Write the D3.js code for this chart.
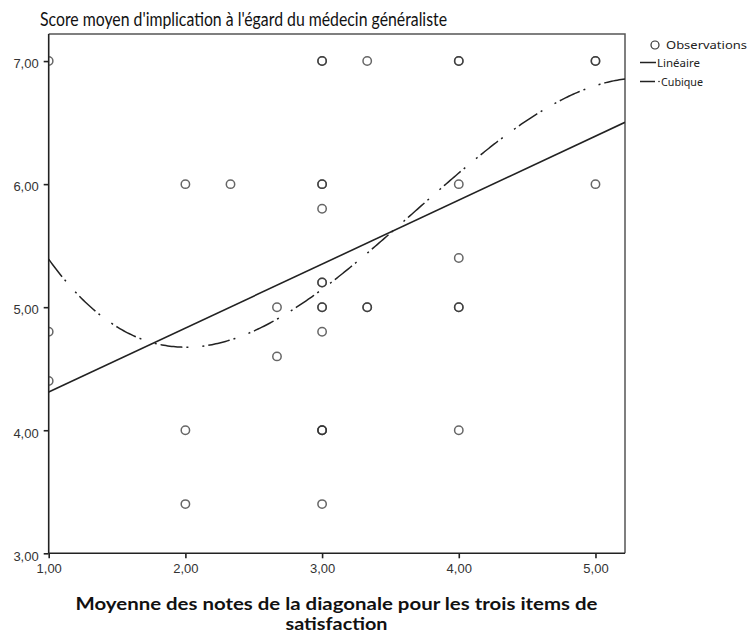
<!DOCTYPE html>
<html>
<head>
<meta charset="utf-8">
<script src="https://cdn.jsdelivr.net/npm/d3@7"></script>
<style>
  html, body { margin: 0; padding: 0; background: #fff; }
  svg { display: block; }
</style>
</head>
<body>
<div id="chart"></div>
<script>
// Observations (duplicates overlap and draw darker)
const obsX = [1, 1, 1,
  2, 2, 2, 2.33, 2.67, 2.67,
  3, 3, 3, 3, 3, 3, 3, 3, 3, 3, 3, 3, 3, 3,
  3.33, 3.33, 3.33,
  4, 4, 4, 4, 4, 4, 4,
  5, 5, 5];
const obsY = [7, 4.8, 4.4,
  6, 4, 3.4, 6, 5, 4.6,
  7, 7, 6, 6, 5.8, 5.2, 5.2, 5, 5, 4.8, 4, 4, 3.4, 4,
  7, 5, 5,
  7, 7, 6, 5.4, 5, 5, 4,
  7, 7, 6];

// Fitted curves: y = sum(coef[i] * x^i)
const linearCoef = [3.79, 0.52];
const cubicCoef = [7.9986, -3.7931, 1.3022, -0.1183];

const xTicks = [1, 2, 3, 4, 5];
const yTicks = [3, 4, 5, 6, 7];
const legendLabels = ["Observations", "Linéaire", "Cubique"];
const titleText = "Score moyen d'implication à l'égard du médecin généraliste";
const xTitleLines = ["Moyenne des notes de la diagonale pour les trois items de", "satisfaction"];

const W = 751, H = 634;
const margin = { left: 48.7, right: 751 - 625, top: 34, bottom: 634 - 553.3 };

const svg = d3.select("#chart").append("svg").attr("width", W).attr("height", H);

const x = d3.scaleLinear().domain([1, 5.216]).range([margin.left, W - margin.right]);
const y = d3.scaleLinear().domain([3, 7.22]).range([H - margin.bottom, margin.top]);

const fmt = d => d.toFixed(2).replace(".", ",");
const poly = (c, v) => c.reduce((s, k, i) => s + k * Math.pow(v, i), 0);

// Title
svg.append("text")
  .attr("x", 243.5).attr("y", 26)
  .attr("text-anchor", "middle")
  .attr("font-family", "Lato, sans-serif")
  .attr("font-size", 18.5)
  .attr("fill", "#111")
  .attr("textLength", 407).attr("lengthAdjust", "spacingAndGlyphs")
  .text(titleText);

// Clip region for marks
svg.append("defs").append("clipPath").attr("id", "plotclip")
  .append("rect")
  .attr("x", x.range()[0]).attr("y", y.range()[1])
  .attr("width", x.range()[1] - x.range()[0])
  .attr("height", y.range()[0] - y.range()[1]);

// Frame (top and right)
svg.append("path")
  .attr("d", `M${x.range()[0]},${y.range()[1]}H${x.range()[1]}V${y.range()[0]}`)
  .attr("fill", "none").attr("stroke", "#555").attr("stroke-width", 1.5);

// Axes
const xAxis = d3.axisBottom(x).tickValues(xTicks).tickFormat(fmt).tickSize(5).tickPadding(5);
const yAxis = d3.axisLeft(y).tickValues(yTicks).tickFormat(fmt).tickSize(5).tickPadding(5);

const gx = svg.append("g").attr("transform", `translate(0,${y.range()[0]})`).call(xAxis);
const gy = svg.append("g").attr("transform", `translate(${x.range()[0]},0)`).call(yAxis);
[gx, gy].forEach(g => {
  g.select(".domain").attr("stroke", "#222").attr("stroke-width", 1.6);
  g.selectAll(".tick line").attr("stroke", "#222").attr("stroke-width", 1.6);
  g.selectAll(".tick text")
    .attr("font-family", "'Liberation Sans', Arial, sans-serif")
    .attr("font-size", 13).attr("fill", "#333");
});
gy.selectAll(".tick text").attr("dy", "0.52em");
gy.select(".domain").attr("d", `M0,${y.range()[0]}V${y.range()[1]}`);
gx.select(".domain").attr("d", `M${x.range()[0]},0H${x.range()[1]}`);

// X axis title (two lines)
const xTitle = svg.append("g")
  .attr("font-family", "Lato, sans-serif")
  .attr("font-weight", "bold")
  .attr("font-size", 16.5)
  .attr("fill", "#111")
  .attr("text-anchor", "middle");
xTitle.append("text").attr("x", 336.5).attr("y", 610)
  .attr("textLength", 522).attr("lengthAdjust", "spacingAndGlyphs")
  .text(xTitleLines[0]);
xTitle.append("text").attr("x", 336.5).attr("y", 630)
  .attr("textLength", 102).attr("lengthAdjust", "spacingAndGlyphs")
  .text(xTitleLines[1]);

const plot = svg.append("g").attr("clip-path", "url(#plotclip)");

// Fit lines
const xs = d3.range(0, 301).map(i => 1 + (5.216 - 1) * i / 300);
const line = d3.line().x(d => x(d[0])).y(d => y(d[1]));

plot.append("path")
  .attr("d", line(xs.map(v => [v, poly(cubicCoef, v)])))
  .attr("fill", "none").attr("stroke", "#222").attr("stroke-width", 1.5)
  .attr("stroke-dasharray", "22,4,2,14,2,4");

plot.append("path")
  .attr("d", line([1, 5.216].map(v => [v, poly(linearCoef, v)])))
  .attr("fill", "none").attr("stroke", "#222").attr("stroke-width", 1.6);

// Observation markers
plot.selectAll("circle.obs")
  .data(obsX.map((v, i) => [v, obsY[i]]))
  .join("circle")
  .attr("class", "obs")
  .attr("cx", d => x(d[0])).attr("cy", d => y(d[1]))
  .attr("r", 4.2)
  .attr("fill", "none")
  .attr("stroke", "#333").attr("stroke-opacity", 0.75)
  .attr("stroke-width", 1.5);

// Legend
const lg = svg.append("g").attr("font-family", "'Noto Sans', sans-serif")
  .attr("font-size", 11.5).attr("fill", "#222");
lg.append("circle").attr("cx", 655).attr("cy", 45).attr("r", 4)
  .attr("fill", "none").attr("stroke", "#333").attr("stroke-width", 1.2);
lg.append("line").attr("x1", 640).attr("x2", 656).attr("y1", 62.5).attr("y2", 62.5)
  .attr("stroke", "#222").attr("stroke-width", 1.5);
lg.append("line").attr("x1", 640).attr("x2", 655).attr("y1", 81.5).attr("y2", 81.5)
  .attr("stroke", "#222").attr("stroke-width", 1.5);
lg.append("circle").attr("cx", 659).attr("cy", 81.5).attr("r", 0.8).attr("fill", "#222");
const ly = [49, 66.5, 85.5], lx = [666, 657, 661], lw = [81, 43, 42];
legendLabels.forEach((t, i) => {
  lg.append("text").attr("x", lx[i]).attr("y", ly[i])
    .attr("textLength", lw[i]).attr("lengthAdjust", "spacingAndGlyphs").text(t);
});
</script>
</body>
</html>
